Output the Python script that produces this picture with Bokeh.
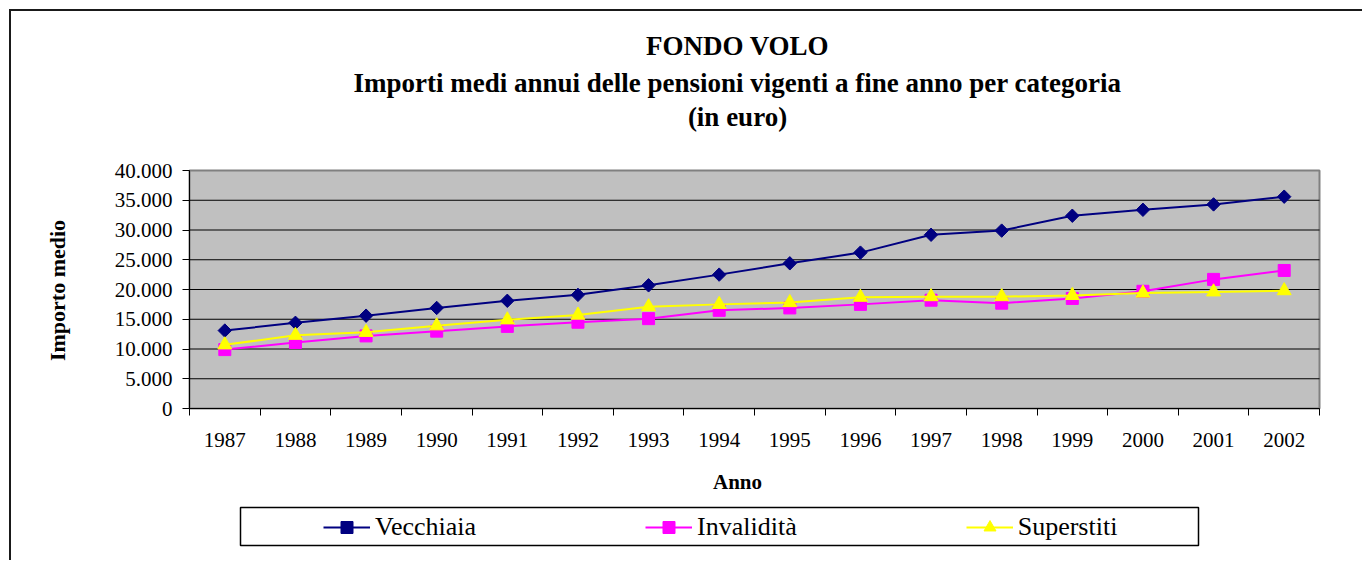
import math
from bokeh.plotting import figure
from bokeh.models import (FixedTicker, Label, Legend, LegendItem, Range1d, LinearAxis,
                          Grid, BoxAnnotation)
from bokeh.embed import file_html
from bokeh.resources import INLINE

# ---------------- data ----------------
years = [1987, 1988, 1989, 1990, 1991, 1992, 1993, 1994,
         1995, 1996, 1997, 1998, 1999, 2000, 2001, 2002]
vecchiaia = [13100, 14400, 15600, 16900, 18100, 19100, 20700, 22500,
             24400, 26200, 29200, 29900, 32400, 33400, 34300, 35600]
invalidita = [9900, 11100, 12200, 13000, 13800, 14500, 15100, 16500,
              16900, 17500, 18200, 17700, 18500, 19700, 21700, 23200]
superstiti = [10700, 12300, 12800, 13900, 14900, 15700, 17100, 17500,
              17800, 18700, 18800, 18800, 19000, 19400, 19600, 19800]
series_names = ["Vecchiaia", "Invalidità", "Superstiti"]
y_ticks = [0, 5000, 10000, 15000, 20000, 25000, 30000, 35000, 40000]
y_tick_labels = ["0", "5.000", "10.000", "15.000", "20.000", "25.000", "30.000", "35.000", "40.000"]
title_lines = ["FONDO VOLO",
               "Importi medi annui delle pensioni vigenti a fine anno per categoria",
               "(in euro)"]
x_title = "Anno"
y_title = "Importo medio"

# ---------------- layout (page px) ----------------
BM = 9                      # outer chart border position (css border)
CX, CY = BM + 2, BM + 2     # canvas origin on the page
W, H = 1364 - CX, 562 - CY
PL, PT, PR, PB = 189, 170, 1319, 408      # plot area on the page
FONT = "Liberation Serif"

x0, x1 = years[0] - 0.5, years[-1] + 0.5
y0, y1 = y_ticks[0], y_ticks[-1]
xpp = (x1 - x0) / (PR - PL)      # data per pixel
ypp = (y1 - y0) / (PB - PT)

# the frame covers the whole canvas; the plot area is a data-space box in it
p = figure(width=W, height=H, output_backend="svg", toolbar_location=None,
           x_axis_location=None, y_axis_location=None, min_border=0,
           x_range=Range1d(x0 - (PL - CX) * xpp, x1 + (CX + W - PR) * xpp),
           y_range=Range1d(y0 - (CY + H - PB) * ypp, y1 + (PT - CY) * ypp),
           styles={"margin-left": f"{BM}px", "margin-top": f"{BM}px",
                   "border-left": "2px solid #1a1a1a", "border-top": "2px solid #1a1a1a"})
p.outline_line_color = None
p.background_fill_color = "white"
p.border_fill_color = "white"
for r in p.center:
    if isinstance(r, Grid):
        r.visible = False

def sx(px):
    return px - CX

def sy(py):
    return CY + H - py

# plot area background
p.add_layout(BoxAnnotation(left=x0, right=x1, bottom=y0, top=y1, level="image",
                           fill_color="#C0C0C0", fill_alpha=1,
                           line_color="#808080", line_width=2, line_alpha=1))

# horizontal grid lines inside the plot area
grid_vals = y_ticks[1:-1]
p.segment(x0=[x0] * len(grid_vals), y0=grid_vals, x1=[x1] * len(grid_vals), y1=grid_vals,
          line_color="black", line_width=1, level="underlay")

# y axis
yax = LinearAxis(fixed_location=x0, bounds=(y0, y1), ticker=FixedTicker(ticks=y_ticks),
                 major_label_overrides={t: l for t, l in zip(y_ticks, y_tick_labels)},
                 major_tick_out=7, major_tick_in=0, minor_tick_out=0, minor_tick_in=0,
                 axis_line_color="black", major_tick_line_color="black",
                 major_label_standoff=10, major_label_text_font=FONT,
                 major_label_text_font_size="21px", major_label_text_color="black")
p.add_layout(yax, "left")

# x axis: labels at year centres, tick marks at category boundaries
xax = LinearAxis(fixed_location=y0, bounds=(x0, x1),
                 ticker=FixedTicker(ticks=years,
                                    minor_ticks=[y - 0.5 for y in years] + [x1]),
                 major_tick_out=0, major_tick_in=0, minor_tick_out=7, minor_tick_in=0,
                 minor_tick_line_color="black", axis_line_color="black",
                 major_label_standoff=17, major_label_text_font=FONT,
                 major_label_text_font_size="21px", major_label_text_color="black")
p.add_layout(xax, "below")

# series
r1 = p.line(years, vecchiaia, line_color="#000080", line_width=2)
s1 = p.scatter(years, vecchiaia, marker="square", angle=math.pi / 4, size=9.5,
               fill_color="#000080", line_color="#000080")
r2 = p.line(years, invalidita, line_color="#FF00FF", line_width=2)
s2 = p.scatter(years, invalidita, marker="square", size=12,
               fill_color="#FF00FF", line_color="#FF00FF")
r3 = p.line(years, superstiti, line_color="#FFFF00", line_width=2)
s3 = p.scatter(years, superstiti, marker="triangle", size=14,
               fill_color="#FFFF00", line_color="#FFFF00")

# legend box + legend
p.add_layout(BoxAnnotation(left=sx(240), right=sx(1198), top=sy(507), bottom=sy(545),
                           left_units="screen", right_units="screen",
                           top_units="screen", bottom_units="screen",
                           fill_color="white", fill_alpha=1,
                           line_color="black", line_width=1.5, line_alpha=1))
legend = Legend(items=[LegendItem(label=series_names[0], renderers=[r1, s1]),
                       LegendItem(label=series_names[1], renderers=[r2, s2]),
                       LegendItem(label=series_names[2], renderers=[r3, s3])],
                orientation="horizontal", location=(sx(323), sy(542)),
                padding=0, margin=0, spacing=169, glyph_width=47, glyph_height=30,
                label_standoff=5, border_line_alpha=0, background_fill_alpha=0,
                label_text_font=FONT, label_text_font_size="26px", label_text_color="black")
p.add_layout(legend, "center")

# titles
for text, cy in zip(title_lines, [45, 82, 116]):
    p.add_layout(Label(x=sx(737), y=sy(cy), x_units="screen", y_units="screen", text=text,
                       text_align="center", text_baseline="middle", text_font=FONT,
                       text_font_style="bold", text_font_size="27px", text_color="black"))

p.add_layout(Label(x=sx(737), y=sy(481), x_units="screen", y_units="screen", text=x_title,
                   text_align="center", text_baseline="middle", text_font=FONT,
                   text_font_style="bold", text_font_size="21px", text_color="black"))
p.add_layout(Label(x=sx(57), y=sy(290), x_units="screen", y_units="screen", text=y_title,
                   angle=math.pi / 2, text_align="center", text_baseline="middle",
                   text_font=FONT, text_font_style="bold", text_font_size="22px",
                   text_color="black"))

with open("out.html", "w", encoding="utf-8") as f:
    f.write(file_html(p, INLINE))
